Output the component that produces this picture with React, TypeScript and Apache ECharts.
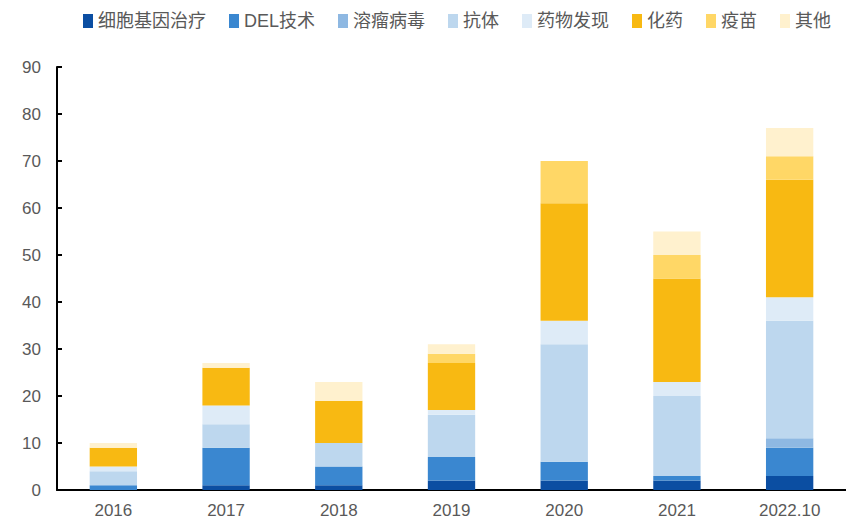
import React, { useEffect, useRef } from "react";
import * as echarts from "echarts";

const categories = ["2016", "2017", "2018", "2019", "2020", "2021", "2022.10"];
const seriesNames = ["细胞基因治疗", "DEL技术", "溶瘤病毒", "抗体", "药物发现", "化药", "疫苗", "其他"];
const cellGene = [0, 1, 1, 2, 2, 2, 3];
const delTech = [1, 8, 4, 5, 4, 1, 6];
const oncolytic = [0, 0, 0, 0, 0, 0, 2];
const antibody = [3, 5, 5, 9, 25, 17, 25];
const discovery = [1, 4, 0, 1, 5, 3, 5];
const chemical = [4, 8, 9, 10, 25, 22, 25];
const vaccine = [0, 0, 0, 2, 9, 5, 5];
const others = [1, 1, 4, 2, 0, 5, 6];
const yTicks = [0, 10, 20, 30, 40, 50, 60, 70, 80, 90];

const colors = ["#0B4EA2", "#3A87D0", "#8EB8E2", "#BDD7EE", "#DEEBF7", "#F8B912", "#FFD766", "#FFF1CE"];

export default function App() {
  const ref = useRef<HTMLDivElement>(null);
  useEffect(() => {
    if (!ref.current) return;
    const chart = echarts.init(ref.current, undefined, { renderer: "svg" });
    const allData = [cellGene, delTech, oncolytic, antibody, discovery, chemical, vaccine, others];
    const font = "Arial, 'Liberation Sans', 'Noto Sans CJK SC', sans-serif";
    chart.setOption({
      animation: false,
      color: colors,
      legend: {
        top: 7,
        left: 78,
        itemWidth: 10,
        itemHeight: 14,
        itemGap: 23,
        icon: "rect",
        textStyle: { color: "#595959", fontSize: 18, fontFamily: font },
        data: seriesNames,
      },
      grid: { left: 57, right: 0, top: 67, bottom: 33, containLabel: false },
      xAxis: {
        type: "category",
        data: categories,
        axisLine: { lineStyle: { color: "#000", width: 2 } },
        axisTick: { inside: true, length: 5, lineStyle: { color: "#000", width: 2 } },
        axisLabel: { color: "#595959", fontSize: 17, fontFamily: font, margin: 12 },
      },
      yAxis: {
        type: "value",
        min: yTicks[0],
        max: yTicks[yTicks.length - 1],
        interval: 10,
        axisLine: { show: true, lineStyle: { color: "#000", width: 2 } },
        axisTick: { show: true, inside: true, length: 5, lineStyle: { color: "#000", width: 2 } },
        axisLabel: { color: "#595959", fontSize: 17, fontFamily: font, margin: 16 },
        splitLine: { show: false },
      },
      series: seriesNames.map((name, i) => ({
        name,
        type: "bar",
        stack: "total",
        barWidth: "42%",
        data: allData[i],
        itemStyle: { color: colors[i] },
      })),
    });
    return () => chart.dispose();
  }, []);
  return <div ref={ref} style={{ width: 846, height: 523, position: "absolute", left: 0, top: 0 }} />;
}
